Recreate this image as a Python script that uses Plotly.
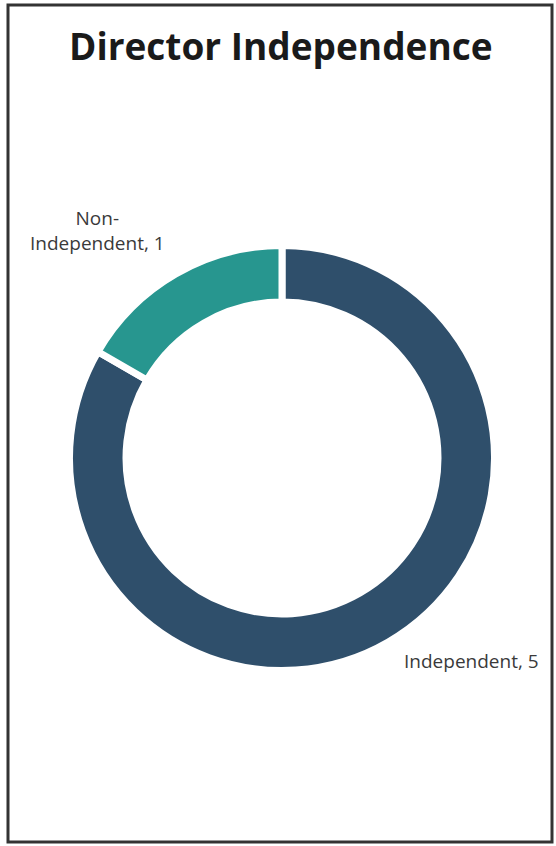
import plotly.graph_objects as go

labels = ["Independent", "Non-Independent"]
values = [5, 1]
colors = ["#2F4F6B", "#27968F"]
label_text = ["Independent, 5", "Non-<br>Independent, 1"]
title_text = "Director Independence"

W, H = 556, 846
cx, cy = 282, 458          # donut centre (px from top-left)
R = 212.5                  # plotly radius incl. half stroke
hole = 0.734

fig = go.Figure(go.Pie(
    labels=labels,
    values=values,
    marker=dict(colors=colors, line=dict(color="white", width=7)),
    hole=hole,
    sort=False,
    direction="clockwise",
    rotation=0,
    textinfo="none",
    hoverinfo="label+value",
    showlegend=False,
    domain=dict(x=[(cx - R) / W, (cx + R) / W],
                y=[1 - (cy + R) / H, 1 - (cy - R) / H]),
))

label_pos = [(471, 661), (97, 230)]
for txt, (x, y) in zip(label_text, label_pos):
    fig.add_annotation(x=x / W, y=1 - y / H, xref="paper", yref="paper",
                       text=txt, showarrow=False, align="center",
                       xanchor="center", yanchor="middle",
                       font=dict(family="Open Sans", size=19, color="#3a3a3a"))

fig.add_annotation(x=281 / W, y=1 - 46 / H, xref="paper", yref="paper",
                   text="<b>" + title_text + "</b>", showarrow=False,
                   xanchor="center", yanchor="middle",
                   font=dict(family="Open Sans", size=37, color="#1a1a1a"))

fig.add_shape(type="rect", xref="paper", yref="paper",
              x0=8 / W, x1=552 / W, y0=1 - 842 / H, y1=1 - 5 / H,
              line=dict(color="#333333", width=3), fillcolor="rgba(0,0,0,0)")

fig.update_layout(width=W, height=H, margin=dict(l=0, r=0, t=0, b=0),
                  paper_bgcolor="white", plot_bgcolor="white")

fig.write_html("out.html")
